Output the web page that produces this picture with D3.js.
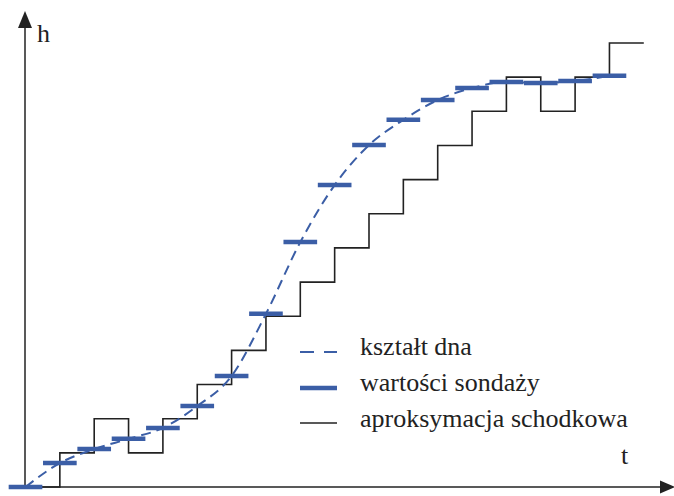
<!DOCTYPE html>
<html>
<head>
<meta charset="utf-8">
<script src="https://cdn.jsdelivr.net/npm/d3@7"></script>
<style>
  html, body { margin: 0; padding: 0; background: #fff; }
  svg { display: block; }
</style>
</head>
<body>
<svg id="chart" width="674" height="496"></svg>
<script>
// sample positions (t) and sounding values (h)
const soundingT = [0, 1, 2, 3, 4, 5, 6, 7, 8, 9, 10, 11, 12, 13, 14, 15, 16, 17];
const soundingH = [0, 0.70, 1.11, 1.41, 1.73, 2.37, 3.25, 5.07, 7.17, 8.84, 10.01, 10.75, 11.33, 11.68, 11.86, 11.83, 11.89, 12.04];

// staircase approximation: level held from t until the next t
const stepT = [0, 1, 2, 3, 4, 5, 6, 7, 8, 9, 10, 11, 12, 13, 14, 15, 16, 17, 18];
const stepH = [0, 1, 2, 1, 2, 3, 4, 5, 6, 7, 8, 9, 10, 11, 12, 11, 12, 13, 13];

const legendLabels = ["kształt dna", "wartości sondaży", "aproksymacja schodkowa"];

const blue = "#3b5ea6";
const ink = "#222";
const serif = "'Liberation Serif', 'DejaVu Serif', 'Times New Roman', Times, serif";

const svg = d3.select("#chart");

const x = d3.scaleLinear().domain([0, 18]).range([25.5, 643.8]);
const y = d3.scaleLinear().domain([0, 13]).range([487, 43]);

// axes with arrowheads
const axisX0 = 25, axisY0 = 487;
svg.append("line")
  .attr("x1", axisX0).attr("y1", axisY0 + 1)
  .attr("x2", axisX0).attr("y2", 24)
  .attr("stroke", ink).attr("stroke-width", 1.5);
svg.append("path")
  .attr("d", `M${axisX0},11L${axisX0 + 7},28L${axisX0 - 7},28Z`)
  .attr("fill", ink);

svg.append("line")
  .attr("x1", axisX0).attr("y1", axisY0)
  .attr("x2", 662).attr("y2", axisY0)
  .attr("stroke", ink).attr("stroke-width", 1.5);
svg.append("path")
  .attr("d", `M675,${axisY0}L660,${axisY0 - 6.5}L660,${axisY0 + 6.5}Z`)
  .attr("fill", ink);

svg.append("text").attr("x", 37).attr("y", 42)
  .attr("font-family", serif).attr("font-size", 26).attr("fill", ink).text("h");
svg.append("text").attr("x", 621).attr("y", 464)
  .attr("font-family", serif).attr("font-size", 26).attr("fill", ink).text("t");

// staircase
const steps = stepT.map((t, i) => ({ t, h: stepH[i] }));
svg.append("path")
  .datum(steps)
  .attr("fill", "none")
  .attr("stroke", ink)
  .attr("stroke-width", 1.6)
  .attr("d", d3.line().x(d => x(d.t)).y(d => y(d.h)).curve(d3.curveStepAfter));

// seabed shape (dashed)
const samples = soundingT.map((t, i) => ({ t, h: soundingH[i] }));
svg.append("path")
  .datum(samples)
  .attr("fill", "none")
  .attr("stroke", blue)
  .attr("stroke-width", 2)
  .attr("stroke-dasharray", "10,6")
  .attr("d", d3.line().x(d => x(d.t)).y(d => y(d.h)).curve(d3.curveMonotoneX));

// sounding values
svg.append("g")
  .selectAll("line")
  .data(samples)
  .join("line")
  .attr("x1", d => x(d.t - 0.49))
  .attr("x2", d => x(d.t + 0.49))
  .attr("y1", d => y(d.h))
  .attr("y2", d => y(d.h))
  .attr("stroke", blue)
  .attr("stroke-width", 4.5);

// legend
const legend = svg.append("g");
const rowY = [352, 388, 423];
const textY = [355, 391, 427];

legend.append("line")
  .attr("x1", 300).attr("x2", 337).attr("y1", rowY[0]).attr("y2", rowY[0])
  .attr("stroke", blue).attr("stroke-width", 2).attr("stroke-dasharray", "14,10");
legend.append("line")
  .attr("x1", 300).attr("x2", 337).attr("y1", rowY[1]).attr("y2", rowY[1])
  .attr("stroke", blue).attr("stroke-width", 4.5);
legend.append("line")
  .attr("x1", 300).attr("x2", 337).attr("y1", rowY[2]).attr("y2", rowY[2])
  .attr("stroke", ink).attr("stroke-width", 1.6);

legend.selectAll("text")
  .data(legendLabels)
  .join("text")
  .attr("x", 360)
  .attr("y", (d, i) => textY[i])
  .attr("font-family", serif)
  .attr("font-size", 26)
  .attr("fill", ink)
  .text(d => d);
</script>
</body>
</html>
